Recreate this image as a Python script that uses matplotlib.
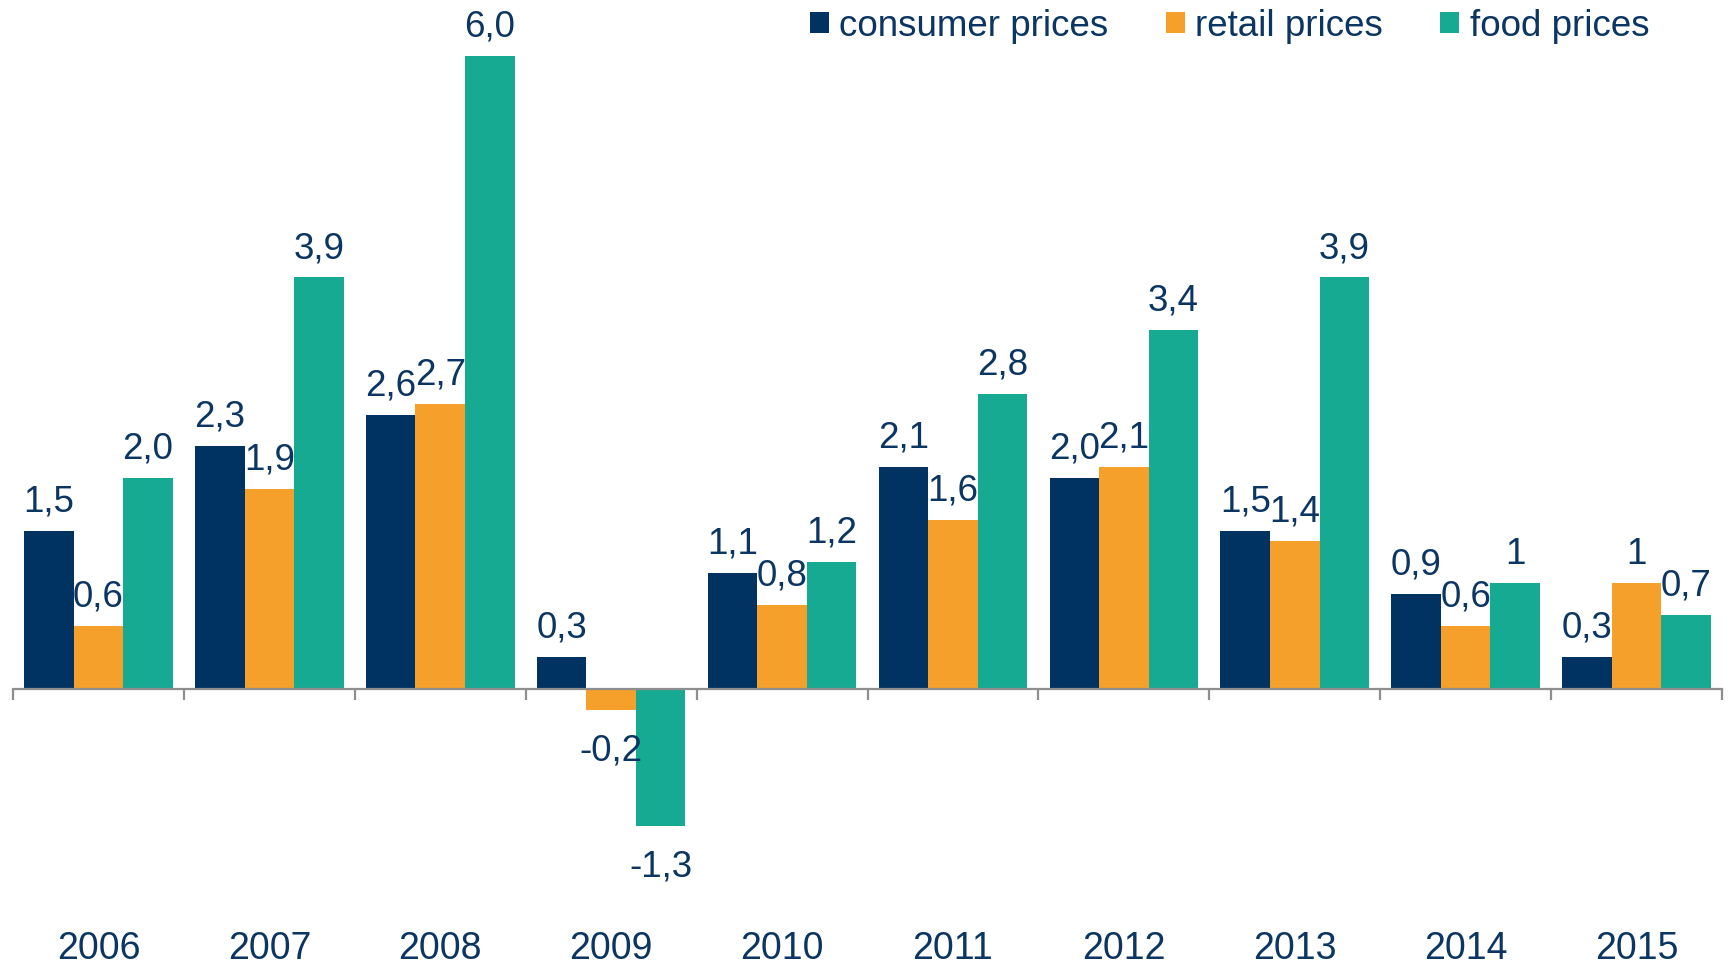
import numpy as np
import matplotlib
matplotlib.use('Agg')
from matplotlib import pyplot as plt
from matplotlib.patches import Patch


# Chart data
years = ['2006', '2007', '2008', '2009', '2010', '2011', '2012', '2013', '2014', '2015']
consumer = [1.5, 2.3, 2.6, 0.3, 1.1, 2.1, 2.0, 1.5, 0.9, 0.3]
retail = [0.6, 1.9, 2.7, -0.2, 0.8, 1.6, 2.1, 1.4, 0.6, 1.0]
food = [2.0, 3.9, 6.0, -1.3, 1.2, 2.8, 3.4, 3.9, 1.0, 0.7]
consumer_labels = ['1,5', '2,3', '2,6', '0,3', '1,1', '2,1', '2,0', '1,5', '0,9', '0,3']
retail_labels = ['0,6', '1,9', '2,7', '-0,2', '0,8', '1,6', '2,1', '1,4', '0,6', '1']
food_labels = ['2,0', '3,9', '6,0', '-1,3', '1,2', '2,8', '3,4', '3,9', '1', '0,7']
series_names = ['consumer prices', 'retail prices', 'food prices']

NAVY = '#003262'
ORANGE = '#F5A02A'
TEAL = '#17AA93'
TEXT = '#0B3563'
GRAY = '#8E8E8E'

plt.rcParams['font.family'] = ['Liberation Sans', 'DejaVu Sans']

fig = plt.figure(figsize=(17.31, 9.65), dpi=100)
ax = fig.add_axes([13 / 1731, 0, 1709 / 1731, 1])

x = np.arange(len(years))
w = 0.29
series = [
    (consumer, consumer_labels, NAVY, -w),
    (retail, retail_labels, ORANGE, 0),
    (food, food_labels, TEAL, w),
]

for vals, labels, color, off in series:
    ax.bar(x + off, vals, width=w, color=color, linewidth=0)
    for xi, v, lab in zip(x, vals, labels):
        if v >= 0:
            ax.annotate(lab, (xi + off, v), xytext=(0, 14), textcoords='offset points',
                        ha='center', va='baseline', fontsize=26.5, color=TEXT)
        else:
            ax.annotate(lab, (xi + off, v), xytext=(0, -17), textcoords='offset points',
                        ha='center', va='top', fontsize=26.5, color=TEXT)

ax.set_xlim(-0.5, 9.5)
ax.set_ylim(-2.616, 6.53)

# Axis styling
for s in ['top', 'right', 'left']:
    ax.spines[s].set_visible(False)
ax.spines['bottom'].set_position(('data', 0))
ax.spines['bottom'].set_color(GRAY)
ax.spines['bottom'].set_linewidth(1.6)
ax.set_yticks([])
ax.set_xticks(np.arange(-0.5, 10, 1))
ax.set_xticklabels([])
ax.tick_params(axis='x', which='major', direction='out', length=8, width=1.6, color=GRAY)
ax.set_xticks(x, years, minor=True)
ax.tick_params(axis='x', which='minor', length=0, pad=174, labelsize=27, labelcolor=TEXT)

# Legend
handles = [Patch(facecolor=c, edgecolor='none') for c in [NAVY, ORANGE, TEAL]]
leg = fig.legend(handles, series_names, loc='center left', bbox_to_anchor=(810 / 1731, 1 - 26 / 965),
                 ncol=3, frameon=False, fontsize=26.5, handlelength=0.52, handleheight=0.52,
                 handletextpad=0.28, columnspacing=1.55, borderpad=0, borderaxespad=0)
for t in leg.get_texts():
    t.set_color(TEXT)

plt.savefig('out.png', dpi=100)
plt.close(fig)
